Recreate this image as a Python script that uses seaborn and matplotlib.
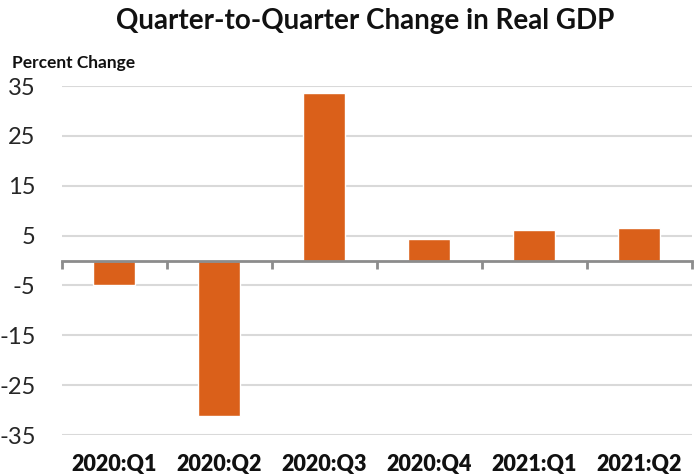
import matplotlib
matplotlib.use("Agg")
import matplotlib.pyplot as plt
import seaborn as sns
import pandas as pd
import numpy as np

quarters = ["2020:Q1", "2020:Q2", "2020:Q3", "2020:Q4", "2021:Q1", "2021:Q2"]
pct_change = [-5.0, -31.2, 33.6, 4.4, 6.2, 6.5]
y_ticks = [-35, -25, -15, -5, 5, 15, 25, 35]

df = pd.DataFrame({"quarter": quarters, "change": pct_change})

sns.set_theme(style="white")
plt.rcParams["font.family"] = ["Lato", "DejaVu Sans"]

fig = plt.figure(figsize=(6.94, 4.76), dpi=100)
ax = fig.add_axes([0.0893, 0.0861, 0.9077, 0.7332])

sns.barplot(data=df, x="quarter", y="change", color="#DA601A", width=0.4,
            saturation=1, ax=ax)

ax.set_ylim(-35, 35)
ax.set_xlim(-0.5, len(quarters) - 0.5)
ax.set_yticks(y_ticks)
ax.set_yticklabels([str(t) for t in y_ticks], fontsize=17, color="#262626")
ax.yaxis.grid(True, color="#D9D9D9", linewidth=1.5)
ax.set_axisbelow(True)

for s in ["left", "right", "top"]:
    ax.spines[s].set_visible(False)
ax.spines["bottom"].set_position(("data", 0))
ax.spines["bottom"].set_color("#8C8C8C")
ax.spines["bottom"].set_linewidth(2)

# category labels sit below the plot, boundary ticks sit on the zero line
ax.set_xticks(np.arange(len(quarters)))
ax.set_xticks(np.arange(len(quarters) + 1) - 0.5, minor=True)
ax.set_xticklabels(quarters, fontsize=15.5, fontweight="heavy", color="#111111")
ax.tick_params(axis="x", which="major", length=0, pad=139)
ax.tick_params(axis="x", which="minor", length=6, width=2, color="#8C8C8C",
               direction="out", bottom=True)
ax.tick_params(axis="y", length=0, pad=19)
ax.set_xlabel("")
ax.set_ylabel("")

fig.text(0.526, 0.955, "Quarter-to-Quarter Change in Real GDP", ha="center",
         va="center", fontsize=20, fontweight="bold", color="#111111")
fig.text(0.017, 0.867, "Percent Change", ha="left", va="center",
         fontsize=12.5, fontweight="bold", color="#111111")

fig.savefig("out.png", dpi=100)
